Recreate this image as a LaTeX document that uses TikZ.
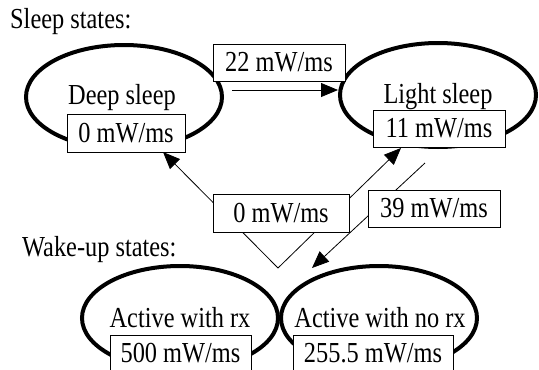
\documentclass[tikz,border=0pt]{standalone}
\usepackage{fontspec}
\setmainfont[FakeStretch=0.84]{Liberation Serif}
\usetikzlibrary{arrows.meta,shapes.geometric}
\begin{document}
\begin{tikzpicture}[x=1pt,y=-1pt,
  state/.style={draw, ellipse, line width=4pt, minimum width=196pt, minimum height=104pt, inner sep=0pt},
  val/.style={draw, fill=white, line width=0.8pt, inner sep=0pt, minimum height=37pt},
  conn/.style={line width=0.8pt, -{Triangle[length=17pt,width=14pt]}},
  lbl/.style={inner sep=0pt, anchor=west},
  statetxt/.style={inner sep=0pt},
  font=\fontsize{29}{32}\selectfont]
\useasboundingbox (0,0) rectangle (539,370);
\clip (0,0) rectangle (539,370);

\node[lbl] (sleeplbl) at (10,22) {Sleep states:};
\node[lbl] (wakelbl) at (22,250) {Wake-up states:};

\node[state] (deep) at (124,97) {};
\node[state] (light) at (438,95) {};
\node[state] (arx) at (180,318) {};
\node[state] (anorx) at (379,318) {};

\node[statetxt] (deeptxt) at (122,98) {Deep sleep};
\node[statetxt] (lighttxt) at (438,97) {Light sleep};
\node[statetxt] (arxtxt) at (180,318) {Active with rx};
\node[statetxt] (anorxtxt) at (380,318) {Active with no rx};

\coordinate (s22) at (232,90);
\coordinate (e22) at (338,90);
\coordinate (apex) at (278,268);
\coordinate (tipdeep) at (163,152);
\coordinate (tiplight) at (401,148);
\coordinate (s39) at (425,163);
\coordinate (e39) at (312,268);

\draw[conn] (s22) -- (e22);
\draw[conn] (apex) -- (tipdeep);
\draw[conn] (apex) -- (tiplight);
\draw[conn] (s39) -- (e39);

\node[val, minimum width=118pt, minimum height=38pt] (v0) at (126,133) {0 mW/ms};
\node[val, minimum width=132pt] (v11) at (439,128.5) {11 mW/ms};
\node[val, minimum width=132pt] (v22) at (279,62.5) {22 mW/ms};
\node[val, minimum width=136pt, minimum height=38pt] (vmid) at (281,213) {0 mW/ms};
\node[val, minimum width=132pt] (v39) at (434,208.5) {39 mW/ms};
\node[val, minimum width=141pt] (v500) at (180.5,353.5) {500 mW/ms};
\node[val, minimum width=160pt] (v255) at (373,353.5) {255.5 mW/ms};
\end{tikzpicture}
\end{document}
